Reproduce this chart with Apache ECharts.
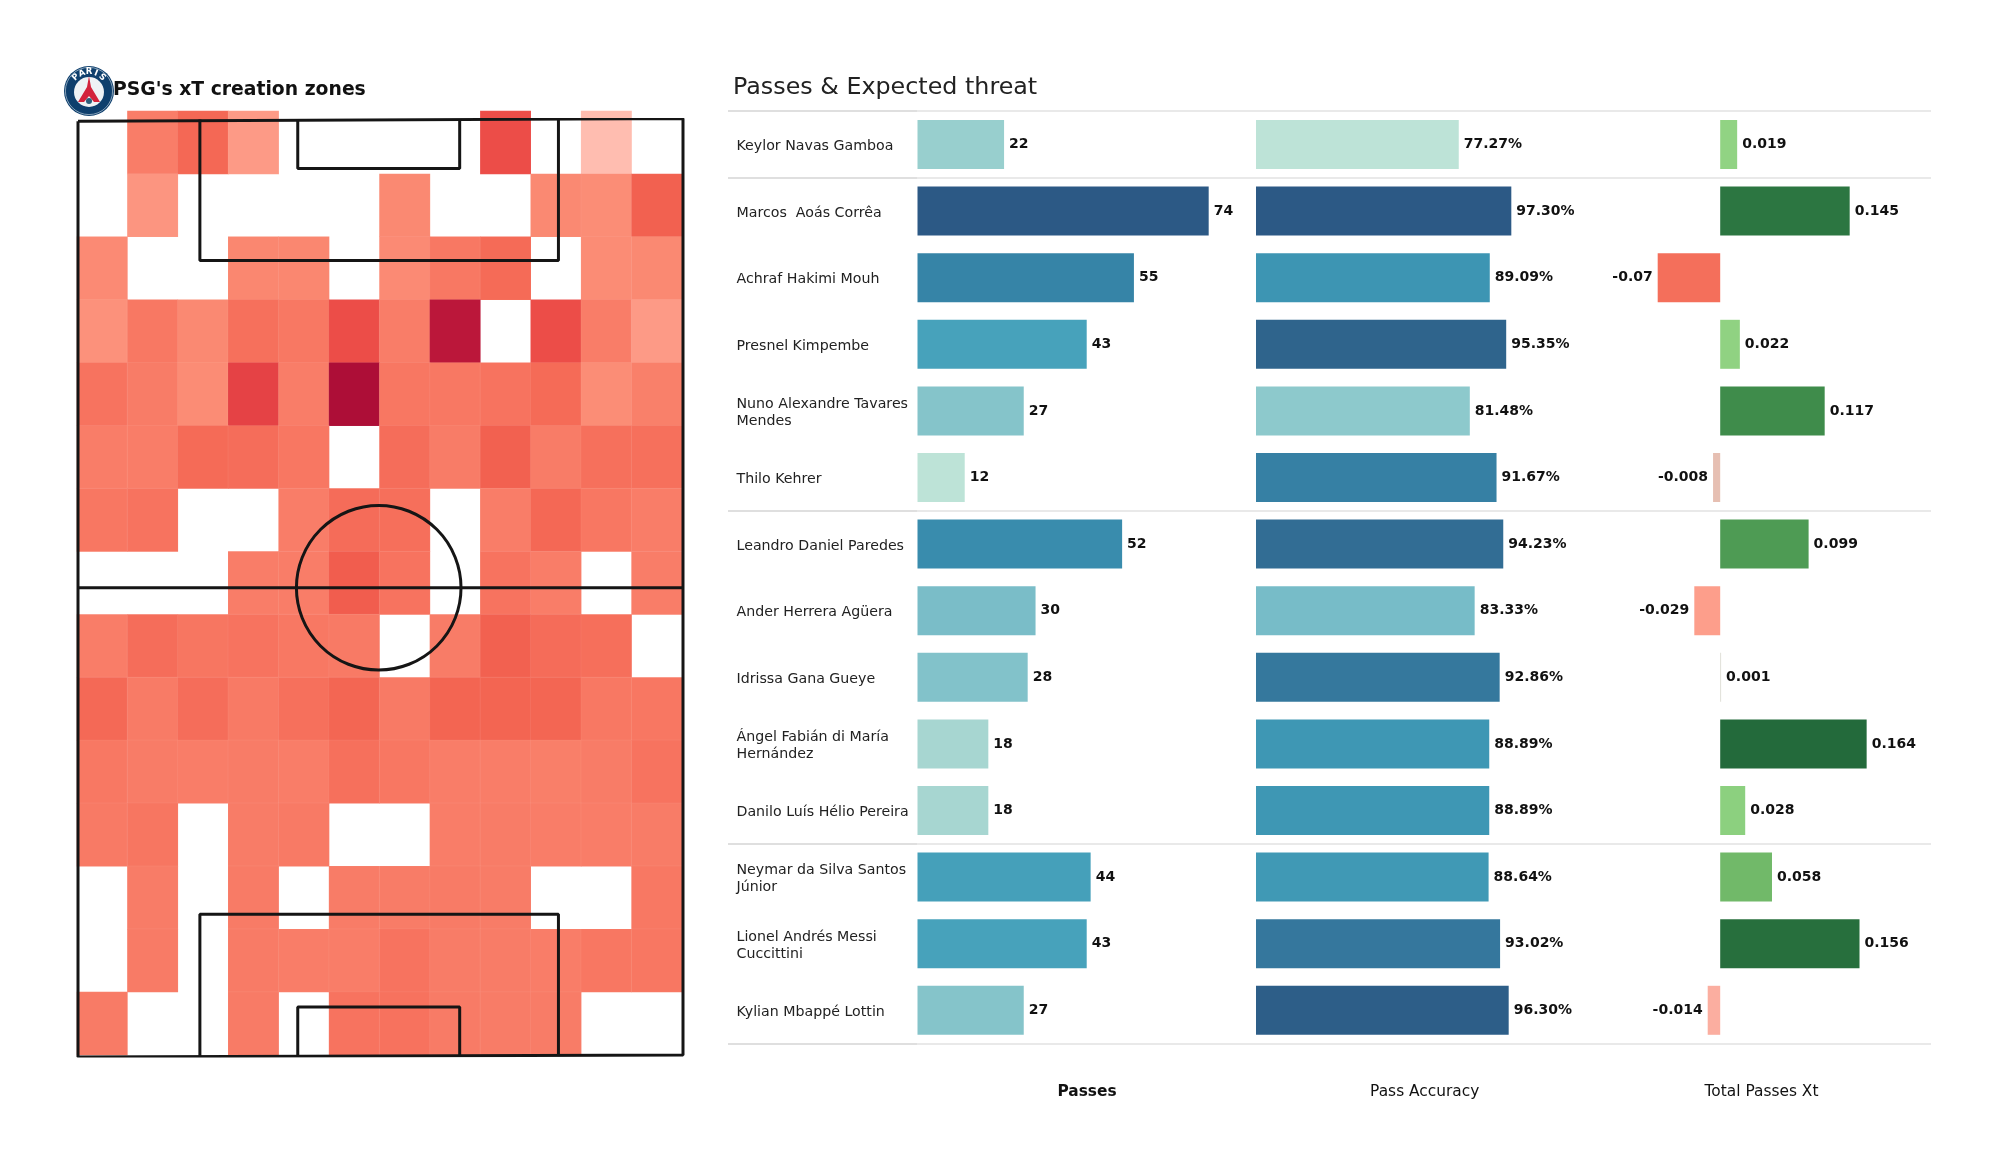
<!DOCTYPE html>
<html>
<head>
<meta charset="utf-8">
<style>html,body{margin:0;padding:0;background:#fff}#chart{width:2000px;height:1175px}</style>
<script src="https://cdn.jsdelivr.net/npm/echarts@6/dist/echarts.min.js"></script>
</head>
<body>
<div id="chart"></div>
<script>
// ---------- Data ----------
const players = [
  'Keylor Navas Gamboa', 'Marcos  Aoás Corrêa', 'Achraf Hakimi Mouh', 'Presnel Kimpembe',
  'Nuno Alexandre Tavares\nMendes', 'Thilo Kehrer', 'Leandro Daniel Paredes', 'Ander Herrera Agüera',
  'Idrissa Gana Gueye', 'Ángel Fabián di María\nHernández', 'Danilo Luís Hélio Pereira',
  'Neymar da Silva Santos\nJúnior', 'Lionel Andrés Messi\nCuccittini', 'Kylian Mbappé Lottin'
];
const passes = [22, 74, 55, 43, 27, 12, 52, 30, 28, 18, 18, 44, 43, 27];
const passAccuracy = [77.27, 97.30, 89.09, 95.35, 81.48, 91.67, 94.23, 83.33, 92.86, 88.89, 88.89, 88.64, 93.02, 96.30];
const totalPassesXt = [0.019, 0.145, -0.07, 0.022, 0.117, -0.008, 0.099, -0.029, 0.001, 0.164, 0.028, 0.058, 0.156, -0.014];
const columnTitles = ['Passes', 'Pass Accuracy', 'Total Passes Xt'];
const chartTitle = "PSG's xT creation zones";
const tableTitle = 'Passes & Expected threat';

// Heat grid: intensity per zone, top row first; null = no value
const zoneRows = [
  [null, 42, 58, 20, null, null, null, null, 72, null, 0, null],
  [null, 24, null, null, null, null, 33, null, null, 33, 30, 62],
  [32, null, null, 35, 35, null, 32, 46, 56, null, 31, 33],
  [27, 46, 33, 52, 46, 72, 42, 95, null, 72, 42, 20],
  [50, 43, 31, 78, 42, 100, 47, 46, 50, 56, 30, 40],
  [42, 42, 56, 54, 47, null, 54, 43, 62, 43, 52, 52],
  [47, 50, null, null, 42, 55, 53, null, 42, 58, 47, 42],
  [null, null, null, 42, 42, 64, 50, null, 50, 42, null, 42],
  [42, 54, 48, 50, 46, 45, null, 43, 62, 55, 53, null],
  [57, 44, 54, 45, 52, 59, 45, 60, 60, 59, 46, 47],
  [46, 43, 42, 43, 42, 52, 47, 42, 42, 41, 43, 50],
  [45, 48, null, 43, 45, null, null, 42, 43, 42, 42, 43],
  [null, 43, null, 44, null, 43, 43, 44, 43, null, null, 46],
  [null, 44, null, 44, 42, 42, 50, 43, 43, 42, 47, 47],
  [44, null, null, 44, null, 50, 51, 44, 43, 43, null, null]
];

// Pitch markings, in metres (68 x 105)
const pitchOutline = [[0, 104.8], [68, 105.1], [68, 0.1], [0, -0.1], [0, 104.8]];
const halfway = [[0, 52.5], [68, 52.5]];
const topBox = [[13.7, 105], [13.7, 89.2], [54, 89.2], [54, 105]];
const topSix = [[24.7, 105], [24.7, 99.5], [42.9, 99.5], [42.9, 105]];
const bottomBox = [[13.7, 0], [13.7, 15.9], [54, 15.9], [54, 0]];
const bottomSix = [[24.7, 0], [24.7, 5.5], [42.9, 5.5], [42.9, 0]];
const circleCentre = [33.8, 52.5];
const circleRadius = 9.25;

// ---------- Colour ramps ----------
const crest = ['#bde3d7', '#a6d6d1', '#8fcacc', '#78bcc8', '#5fafc1', '#47a2bb', '#3c94b2', '#3683a6', '#35759b', '#2f648c', '#2c5985'];
const zoneRamp = ['#ffbdb0', '#feab99', '#fd9a86', '#fb8d76', '#f9806a', '#f7735f', '#f36552', '#ee5049', '#e33f44', '#c8203c', '#ad0e37'];
const greens = ['#9bd98c', '#8acf7d', '#6ab363', '#4f9c54', '#337f45', '#236a3b'];
const negReds = ['#cad5ca', '#fbaea0', '#fd9f8c', '#fb8f7a', '#f87f6a', '#f46f5b'];
const nearZero = '#dcdcd4';
const lerp = (t, ramp) => echarts.color.lerp(Math.max(0, Math.min(1, t)), ramp);
const FONT = '"DejaVu Sans", sans-serif';
const xtColor = v => Math.abs(v) < 0.005 ? nearZero : (v < 0 ? lerp(-v / 0.07, negReds) : lerp(v / 0.164, greens));

// ---------- Layout ----------
const rowsTop = 111.2, rowH = 66.6, rowsN = players.length;
const grids = [
  { left: 917.5, width: 314.8, min: 0, max: 80 },
  { left: 1256, width: 262.4, min: 0, max: 100 },
  { left: 1630.9, width: 267.9, min: -0.1, max: 0.2 }
];
const pitchBox = { left: 78, top: 119.5, width: 605, height: 936.5 };
const heatBox = { left: 77, top: 111, width: 605, height: 944 };
const nameShift = 2;

const barLabel = (text, pos) => ({ show: true, position: pos, distance: 5, formatter: text, color: '#111', fontFamily: FONT, fontWeight: 'bold', fontSize: 14 });
function barSeries(idx, values, colorOf, fmt) {
  return {
    type: 'bar', xAxisIndex: idx, yAxisIndex: idx, barWidth: 49, silent: true, animation: false,
    data: values.map(v => ({
      value: v,
      itemStyle: { color: colorOf(v) },
      label: barLabel(fmt(v), v < 0 ? 'left' : 'right')
    }))
  };
}
const pitchLine = data => ({
  type: 'line', xAxisIndex: 3, yAxisIndex: 3, data, symbol: 'none', silent: true, animation: false, z: 5,
  lineStyle: { color: '#151515', width: 3 }
});

const heatData = [];
zoneRows.forEach((row, r) => row.forEach((v, c) => { if (v !== null) heatData.push([c, r, v]); }));

// Logo
const logoC = [89, 91];
const logoLetters = 'PARIS'.split('').map((ch, i) => {
  const a = (-44 + i * 22) * Math.PI / 180;
  return {
    type: 'text', x: logoC[0] + 19 * Math.sin(a), y: logoC[1] - 19 * Math.cos(a), rotation: -a, z: 12,
    style: { text: ch, fill: '#fff', font: 'bold 8.5px ' + FONT, textAlign: 'center', textVerticalAlign: 'middle' }
  };
});
const logo = [
  { type: 'circle', shape: { cx: logoC[0], cy: logoC[1], r: 25 }, style: { fill: '#0e3f6d' }, z: 10 },
  { type: 'circle', shape: { cx: logoC[0], cy: logoC[1], r: 23.6 }, style: { fill: 'none', stroke: '#b8c8d6', lineWidth: 0.7 }, z: 11 },
  { type: 'circle', shape: { cx: logoC[0], cy: logoC[1] + 1, r: 15 }, style: { fill: '#eef2f5' }, z: 11 },
  { type: 'polygon', shape: { points: [[89, 76], [91, 87], [100, 102], [94, 102], [89, 96], [84, 102], [78, 102], [87, 87]] }, style: { fill: '#d3233c' }, z: 12 },
  { type: 'circle', shape: { cx: 89, cy: 101, r: 3 }, style: { fill: '#2c5f7c' }, z: 12 },
  ...logoLetters
];

// Separators between player groups
const sepAfter = [0, 1, 6, 11, 14];
const separators = sepAfter.flatMap(k => {
  const y = Math.round(rowsTop + k * rowH);
  return [
    { type: 'line', shape: { x1: 728, y1: y, x2: 917, y2: y }, style: { stroke: '#d4d4d4', lineWidth: 1.5 }, z: 1 },
    { type: 'line', shape: { x1: 917, y1: y, x2: 1931, y2: y }, style: { stroke: '#e2e2e2', lineWidth: 1.5 }, z: 1 }
  ];
});

const columnText = columnTitles.map((t, i) => ({
  type: 'text', x: [1087, 1424.7, 1761.5][i], y: 1092,
  style: { text: t, fill: '#111', font: (i === 0 ? 'bold ' : '') + '15.4px ' + FONT, textAlign: 'center', textVerticalAlign: 'middle' }
}));

const option = {
  backgroundColor: '#fff',
  animation: false,
  title: [
    { text: chartTitle, left: 108, top: 76, textStyle: { fontFamily: FONT, fontWeight: 'bold', fontSize: 18.8, color: '#111' } },
    { text: tableTitle, left: 728, top: 71, textStyle: { fontFamily: FONT, fontWeight: 'normal', fontSize: 23.8, color: '#222' } }
  ],
  visualMap: { show: false, type: 'continuous', seriesIndex: 3, dimension: 2, min: 0, max: 100, inRange: { color: zoneRamp } },
  grid: [
    ...grids.map(g => ({ left: g.left, width: g.width, top: rowsTop, height: rowH * rowsN })),
    { left: pitchBox.left, top: pitchBox.top, width: pitchBox.width, height: pitchBox.height },
    { left: heatBox.left, top: heatBox.top, width: heatBox.width, height: heatBox.height },
    { left: grids[0].left, width: grids[0].width, top: rowsTop + nameShift, height: rowH * rowsN }
  ],
  xAxis: [
    ...grids.map((g, i) => ({ type: 'value', gridIndex: i, min: g.min, max: g.max, show: false })),
    { type: 'value', gridIndex: 3, min: 0, max: 68, show: false },
    { type: 'category', gridIndex: 4, data: zoneRows[0].map((_, i) => i), show: false },
    { type: 'value', gridIndex: 5, min: 0, max: 80, show: false }
  ],
  yAxis: [
    { type: 'category', gridIndex: 0, inverse: true, data: players, show: false },
    { type: 'category', gridIndex: 1, inverse: true, data: players, show: false },
    { type: 'category', gridIndex: 2, inverse: true, data: players, show: false },
    { type: 'value', gridIndex: 3, min: 0, max: 105, show: false },
    { type: 'category', gridIndex: 4, inverse: true, data: zoneRows.map((_, i) => i), show: false },
    {
      type: 'category', gridIndex: 5, inverse: true, data: players,
      axisLine: { show: false }, axisTick: { show: false }, splitLine: { show: false },
      axisLabel: { interval: 0, align: 'left', margin: 181, fontFamily: FONT, fontSize: 14.2, lineHeight: 17, color: '#222' }
    }
  ],
  series: [
    barSeries(0, passes, v => lerp((v - 12) / 62, crest), v => String(v)),
    barSeries(1, passAccuracy, v => lerp((v - 77.27) / 20.03, crest), v => v.toFixed(2) + '%'),
    barSeries(2, totalPassesXt, xtColor, v => String(v)),
    {
      type: 'heatmap', xAxisIndex: 4, yAxisIndex: 4, data: heatData, silent: true, animation: false, z: 1,
      itemStyle: { borderColor: 'rgba(255,255,255,0.12)', borderWidth: 0.5 }
    },
    pitchLine(pitchOutline), pitchLine(halfway), pitchLine(topBox), pitchLine(topSix), pitchLine(bottomBox), pitchLine(bottomSix),
    {
      type: 'custom', xAxisIndex: 3, yAxisIndex: 3, silent: true, animation: false, z: 5, coordinateSystem: 'cartesian2d',
      data: [[circleCentre[0], circleCentre[1], circleRadius]],
      renderItem: (params, api) => {
        const c = api.coord([api.value(0), api.value(1)]);
        const r = api.size([api.value(2), 0])[0];
        return { type: 'circle', shape: { cx: c[0], cy: c[1], r }, style: { fill: 'none', stroke: '#151515', lineWidth: 3 } };
      }
    }
  ],
  graphic: { elements: [...separators, ...columnText, ...logo] }
};

const chart = echarts.init(document.getElementById('chart'), null, { renderer: 'canvas' });
chart.setOption(option);
</script>
</body>
</html>
